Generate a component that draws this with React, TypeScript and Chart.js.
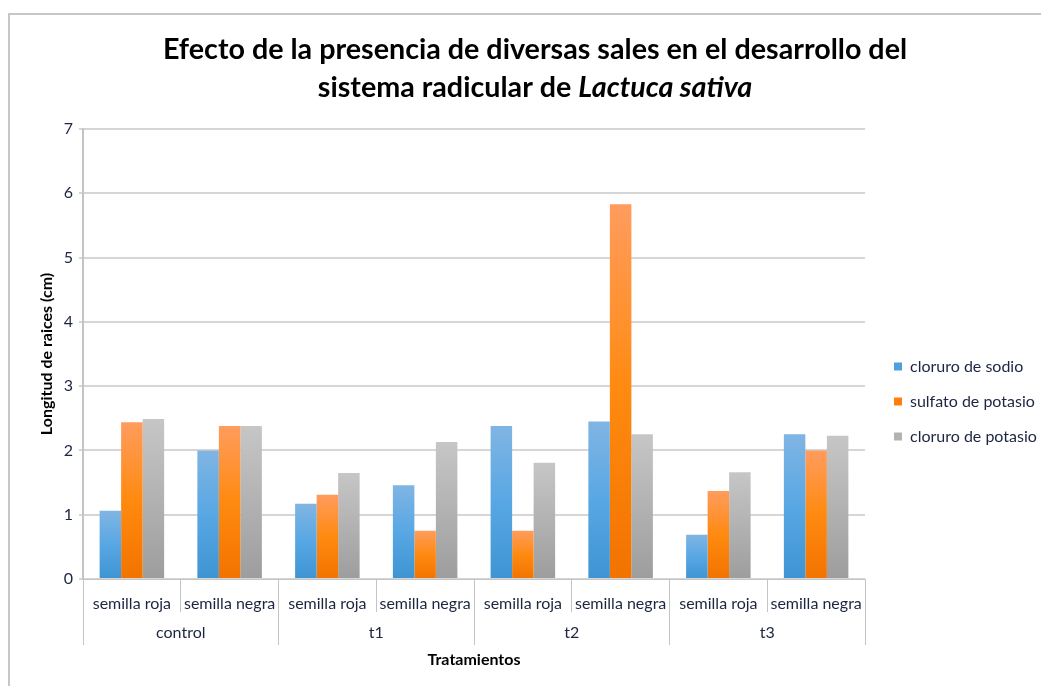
import React, { useEffect, useRef } from 'react';
import { Chart, registerables } from 'chart.js';

Chart.register(...registerables);

const groups = ['control', 't1', 't2', 't3'];
const seeds = ['semilla roja', 'semilla negra'];
const categoryLabels = groups.flatMap(() => seeds);
const seriesNames = ['cloruro de sodio', 'sulfato de potasio', 'cloruro de potasio'];
const cloruroSodio = [1.06, 2.0, 1.17, 1.46, 2.38, 2.45, 0.69, 2.25];
const sulfatoPotasio = [2.44, 2.38, 1.31, 0.75, 0.75, 5.83, 1.37, 2.0];
const cloruroPotasio = [2.49, 2.38, 1.65, 2.13, 1.81, 2.25, 1.66, 2.23];
const yMin = 0;
const yMax = 7;
const yStep = 1;
const titleLine1 = 'Efecto de la presencia de diversas sales en el desarrollo del';
const titleLine2Plain = 'sistema radicular de ';
const titleLine2Italic = 'Lactuca sativa';
const yTitle = 'Longitud de raices (cm)';
const xTitle = 'Tratamientos';

const FONT = 'Lato';
const TEXT = '#1c2541';

const gradients = [
  ['#80b5e3', '#58a7e4', '#3e94d2'],
  ['#ff9c5e', '#ff8a10', '#f27300'],
  ['#c6c6c6', '#b2b2b2', '#9d9d9d'],
];
const solids = ['#4aa0e0', '#ff7f0e', '#b3b3b3'];

const grad = (stops: string[]) => (c: any) => {
  const chart = c.chart;
  const y = chart.scales && chart.scales.y;
  if (!y || c.type !== 'data' || !c.parsed) return stops[1];
  const top = y.getPixelForValue(c.parsed.y);
  const base = y.getPixelForValue(0);
  if (!isFinite(top) || !isFinite(base) || Math.abs(base - top) < 1) return stops[1];
  const g = chart.ctx.createLinearGradient(0, top, 0, base);
  g.addColorStop(0, stops[0]);
  g.addColorStop(0.5, stops[1]);
  g.addColorStop(1, stops[2]);
  return g;
};

const titlePlugin = {
  id: 'mixedTitle',
  afterDraw(chart: any) {
    const ctx = chart.ctx;
    const cx = 535;
    ctx.save();
    ctx.fillStyle = '#000';
    ctx.textBaseline = 'middle';
    ctx.textAlign = 'left';
    const plain = `bold 28.7px ${FONT}`;
    const ital = `italic bold 28.7px ${FONT}`;
    ctx.font = plain;
    const w1 = ctx.measureText(titleLine1).width;
    ctx.fillText(titleLine1, cx - w1 / 2, 50);
    const wa = ctx.measureText(titleLine2Plain).width;
    ctx.font = ital;
    const wb = ctx.measureText(titleLine2Italic).width;
    const start = cx - (wa + wb) / 2;
    ctx.font = plain;
    ctx.fillText(titleLine2Plain, start, 88);
    ctx.font = ital;
    ctx.fillText(titleLine2Italic, start + wa, 88);
    ctx.restore();
  },
};

export default function App() {
  const ref = useRef<HTMLCanvasElement | null>(null);
  useEffect(() => {
    document.body.style.margin = '0';
    const canvas = ref.current;
    if (!canvas) return;
    const chart = new Chart(canvas, {
      type: 'bar',
      data: {
        labels: categoryLabels,
        datasets: [
          { label: seriesNames[0], data: cloruroSodio, backgroundColor: grad(gradients[0]) },
          { label: seriesNames[1], data: sulfatoPotasio, backgroundColor: grad(gradients[1]) },
          { label: seriesNames[2], data: cloruroPotasio, backgroundColor: grad(gradients[2]) },
        ],
      },
      options: {
        animation: false,
        responsive: false,
        maintainAspectRatio: false,
        devicePixelRatio: 1,
        datasets: { bar: { categoryPercentage: 0.66, barPercentage: 1 } },
        layout: { padding: { top: 129, left: 35, right: -2, bottom: 12 } },
        plugins: {
          title: { display: false },
          tooltip: { enabled: false },
          legend: {
            position: 'right',
            align: 'center',
            labels: {
              boxWidth: 8,
              boxHeight: 8,
              padding: 19,
              color: TEXT,
              font: { family: FONT, size: 16 },
              generateLabels: (chart: any) => {
                const items = Chart.defaults.plugins.legend.labels.generateLabels(chart);
                return items.map((it: any, i: number) => ({
                  ...it,
                  fillStyle: solids[i],
                  strokeStyle: solids[i],
                  lineWidth: 0,
                }));
              },
            },
          },
        },
        scales: {
          x: {
            type: 'category',
            position: 'bottom',
            weight: 0,
            grid: {
              display: true,
              drawOnChartArea: false,
              drawTicks: true,
              tickLength: 33,
              offset: true,
              color: '#c4c4c4',
              lineWidth: 1,
            },
            border: { display: true, color: '#c4c4c4', width: 1 },
            ticks: {
              autoSkip: false,
              maxRotation: 0,
              minRotation: 0,
              padding: -17.6,
              color: TEXT,
              font: { family: FONT, size: 16 },
            },
            afterFit: (s: any) => {
              s.height = 33;
            },
          },
          x2: {
            type: 'category',
            position: 'bottom',
            weight: 1,
            labels: groups,
            offset: true,
            grid: {
              display: true,
              drawOnChartArea: false,
              drawTicks: true,
              tickLength: 33,
              offset: true,
              color: '#c4c4c4',
              lineWidth: 1,
            },
            border: { display: false },
            ticks: {
              autoSkip: false,
              maxRotation: 0,
              minRotation: 0,
              padding: -21.6,
              color: TEXT,
              font: { family: FONT, size: 16 },
            },
            title: {
              display: true,
              text: xTitle,
              color: '#000',
              font: { family: FONT, size: 16, weight: 'bold' },
              padding: { top: 0, bottom: 4.4 },
            },
            afterFit: (s: any) => {
              s.height = 62;
            },
          },
          y: {
            min: yMin,
            max: yMax,
            position: 'left',
            ticks: {
              stepSize: yStep,
              padding: 6,
              color: TEXT,
              font: { family: FONT, size: 16 },
            },
            grid: {
              color: '#d6d6d6',
              lineWidth: 2,
              drawTicks: true,
              tickLength: 4,
            },
            border: { display: true, color: '#c4c4c4', width: 2 },
            title: {
              display: true,
              text: yTitle,
              color: '#000',
              font: { family: FONT, size: 16, weight: 'bold' },
              padding: { top: 2, bottom: 0 },
            },
            afterFit: (s: any) => {
              s.width = 48;
            },
          },
          gap: {
            type: 'linear',
            position: 'right',
            display: true,
            grid: { display: false },
            border: { display: false },
            ticks: { display: false },
            afterFit: (s: any) => {
              s.width = 10;
            },
          },
        },
      },
      plugins: [titlePlugin],
    } as any);
    return () => chart.destroy();
  }, []);

  return (
    <div style={{ position: 'relative', width: 1041, height: 686, background: '#fff' }}>
      <canvas ref={ref} width={1041} height={686} style={{ display: 'block' }} />
      <div
        style={{
          position: 'absolute',
          left: 8,
          top: 13,
          right: 0,
          bottom: 0,
          borderTop: '2px solid #c6c6c6',
          borderLeft: '2px solid #c6c6c6',
          pointerEvents: 'none',
        }}
      />
    </div>
  );
}
